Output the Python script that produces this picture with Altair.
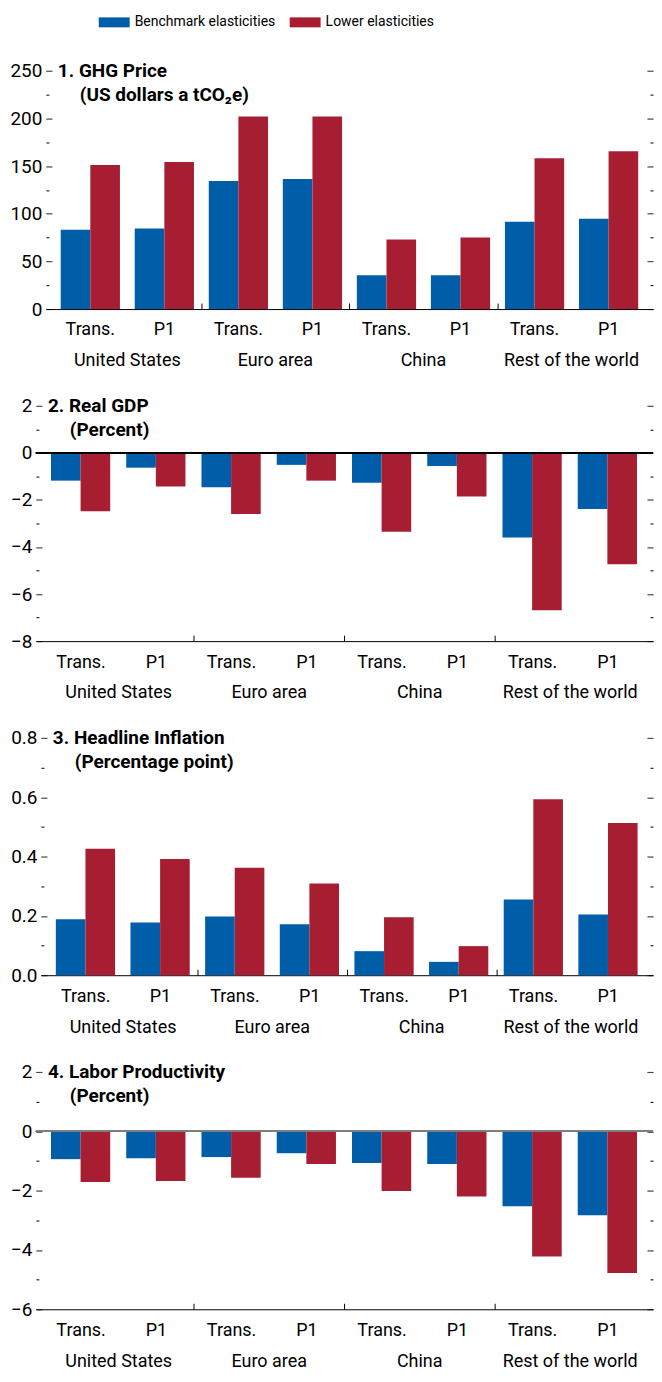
import altair as alt
import pandas as pd

FONT = "Roboto"
BLUE = "#005DA8"
RED = "#A71E32"

regions = ["United States", "Euro area", "China", "Rest of the world"]
scenarios = ["Trans.", "P1"]
series = ["Benchmark elasticities", "Lower elasticities"]

ghg_bench = [83.3, 84.4, 134.4, 136.5, 35.4, 35.4, 91.7, 94.8]
ghg_lower = [151.0, 154.2, 202.0, 202.0, 72.9, 75.0, 158.3, 165.6]
gdp_bench = [-1.18, -0.63, -1.46, -0.51, -1.27, -0.56, -3.60, -2.39]
gdp_lower = [-2.48, -1.43, -2.60, -1.18, -3.35, -1.85, -6.69, -4.73]
infl_bench = [0.189, 0.178, 0.198, 0.172, 0.081, 0.045, 0.255, 0.205]
infl_lower = [0.426, 0.392, 0.362, 0.309, 0.195, 0.098, 0.593, 0.513]
lab_bench = [-0.94, -0.91, -0.87, -0.74, -1.07, -1.10, -2.53, -2.83]
lab_lower = [-1.71, -1.68, -1.57, -1.10, -2.01, -2.20, -4.22, -4.78]

titles = ["1. GHG Price", "2. Real GDP", "3. Headline Inflation", "4. Labor Productivity"]
subtitles = ["(US dollars a tCO\u2082e)", "(Percent)", "(Percentage point)", "(Percent)"]
major_ticks = [[0, 50, 100, 150, 200, 250], [-8, -6, -4, -2, 0, 2],
               [0.0, 0.2, 0.4, 0.6, 0.8], [-6, -4, -2, 0, 2]]
minor_ticks = [[25, 75, 125, 175, 225], [-7, -5, -3, -1, 1],
               [0.1, 0.3, 0.5, 0.7], [-5, -3, -1, 1]]
label_formats = ["d", "d", ".1f", "d"]
panel_values = [(ghg_bench, ghg_lower), (gdp_bench, gdp_lower),
                (infl_bench, infl_lower), (lab_bench, lab_lower)]
zero_colors = ["black", "black", "black", "#808080"]
zero_opacity = [0, 1, 0, 1]

W = 618.8
HEIGHTS = [239, 236, 238, 238]
SHIFTS = [10, 0, 5, 0]
PAD_INNER = 0.2
PAD_OUTER = 0.2

keys = [f"{r}|{s}" for r in regions for s in scenarios]


def make_panel(i):
    bench, lower = panel_values[i]
    rows = []
    for k, key in enumerate(keys):
        rows.append({"key": key, "series": series[0], "value": bench[k]})
        rows.append({"key": key, "series": series[1], "value": lower[k]})
    df = pd.DataFrame(rows)
    majors = major_ticks[i]
    all_ticks = sorted(majors + minor_ticks[i])
    lo, hi = min(majors), max(majors)
    maj_list = "[" + ",".join(str(v) for v in majors) + "]"
    maj_test = f"indexof({maj_list}, datum.value) >= 0"
    min_test = f"indexof({maj_list}, datum.value) < 0"
    H = HEIGHTS[i]
    s = SHIFTS[i]
    step = (W - s) / (len(keys) - PAD_INNER + 2 * PAD_OUTER)
    yscale = alt.Scale(domain=[lo, hi], nice=False, zero=False)
    xscale = alt.Scale(paddingInner=PAD_INNER, paddingOuter=PAD_OUTER, range=[s, W])

    def yaxis(orient, labels, offset):
        return alt.Axis(
            orient=orient, values=all_ticks, title=None, grid=False, domain=False,
            offset=offset, tickSize=6, tickColor="black", tickWidth=1,
            tickDash={"condition": {"test": min_test, "value": [3, 3]}, "value": [1, 0]},
            tickDashOffset={"condition": {"test": min_test, "value": 3}, "value": 0},
            labels=labels, labelExpr=f"{maj_test} ? datum.label : ''",
            format=label_formats[i], labelFont=FONT, labelFontSize=19,
            labelColor="black", labelPadding=4,
        )

    legend = None
    if i == 0:
        legend = alt.Legend(
            orient="none", legendX=71.5, legendY=-55.5, direction="horizontal",
            title=None, symbolType="M-3.1,-1H3.1V1H-3.1Z", symbolSize=100,
            symbolStrokeWidth=0, symbolOpacity=1, labelFont=FONT, labelFontSize=14,
            labelColor="black", labelOffset=13.5, columnPadding=13.5, labelLimit=400,
        )

    bars = alt.Chart(df).mark_bar().encode(
        x=alt.X("key:N", sort=keys, scale=xscale,
                axis=alt.Axis(orient="bottom", title=None, ticks=False, labelAngle=0,
                              labelExpr="split(datum.value, '|')[1]",
                              domainColor="black", domainWidth=1,
                              labelFont=FONT, labelFontSize=18, labelColor="black",
                              labelPadding=12)),
        xOffset=alt.XOffset("series:N", sort=series,
                            scale=alt.Scale(paddingInner=0, paddingOuter=0)),
        y=alt.Y("value:Q", scale=yscale, axis=yaxis("left", True, -(s + 6))),
        color=alt.Color("series:N", sort=series,
                        scale=alt.Scale(domain=series, range=[BLUE, RED]),
                        legend=legend),
    )

    zero = alt.Chart(df).mark_rule(color=zero_colors[i], strokeWidth=1,
                                   strokeOpacity=zero_opacity[i]).encode(
        y=alt.Y(datum=0, scale=yscale, axis=yaxis("right", False, -6)),
    )

    reg_labels = alt.Chart(df).mark_point(opacity=0).encode(
        x=alt.X("key:N", sort=keys, scale=xscale,
                axis=alt.Axis(orient="bottom", title=None, ticks=False, domain=False,
                              labelAngle=0, labelFont=FONT, labelFontSize=18,
                              labelColor="black", labelPadding=43,
                              labelOffset=step / 2,
                              labelExpr="split(datum.value, '|')[1] == 'Trans.' ? split(datum.value, '|')[0] : ''")),
        y=alt.Y("value:Q", scale=yscale, axis=None),
    )
    seps = alt.Chart(df).mark_point(opacity=0).encode(
        x=alt.X("key:N", sort=keys, scale=xscale,
                axis=alt.Axis(orient="top", title=None, offset=-H,
                              values=[f"{r}|Trans." for r in regions[1:]],
                              bandPosition=0, tickOffset=-step * PAD_INNER / 2,
                              labels=False, domain=False,
                              tickSize=6, tickColor="black", tickWidth=1)),
        y=alt.Y("value:Q", scale=yscale, axis=None),
    )

    title_df = pd.DataFrame({"t": [titles[i]]})
    sub_df = pd.DataFrame({"t": [subtitles[i]]})
    title_txt = alt.Chart(title_df).mark_text(
        align="left", baseline="middle", font=FONT, fontSize=19, fontWeight="bold",
        color="black",
    ).encode(x=alt.value(12 + s), y=alt.value(0), text="t:N")
    sub_txt = alt.Chart(sub_df).mark_text(
        align="left", baseline="middle", font=FONT, fontSize=19, fontWeight="bold",
        color="black",
    ).encode(x=alt.value(34 + s), y=alt.value(24), text="t:N")

    return (
        alt.layer(bars, zero, reg_labels, seps, title_txt, sub_txt)
        .resolve_axis(x="independent", y="independent")
        .properties(width=W, height=H)
    )


panels = [make_panel(i) for i in range(4)]
chart = (
    alt.vconcat(*panels, spacing=27)
    .resolve_legend(color="independent")
    .properties(padding={"left": 1, "top": 5, "right": 0, "bottom": 0})
    .configure_view(stroke=None)
)

chart.save("out.html", embed_options={"renderer": "svg", "actions": False})
